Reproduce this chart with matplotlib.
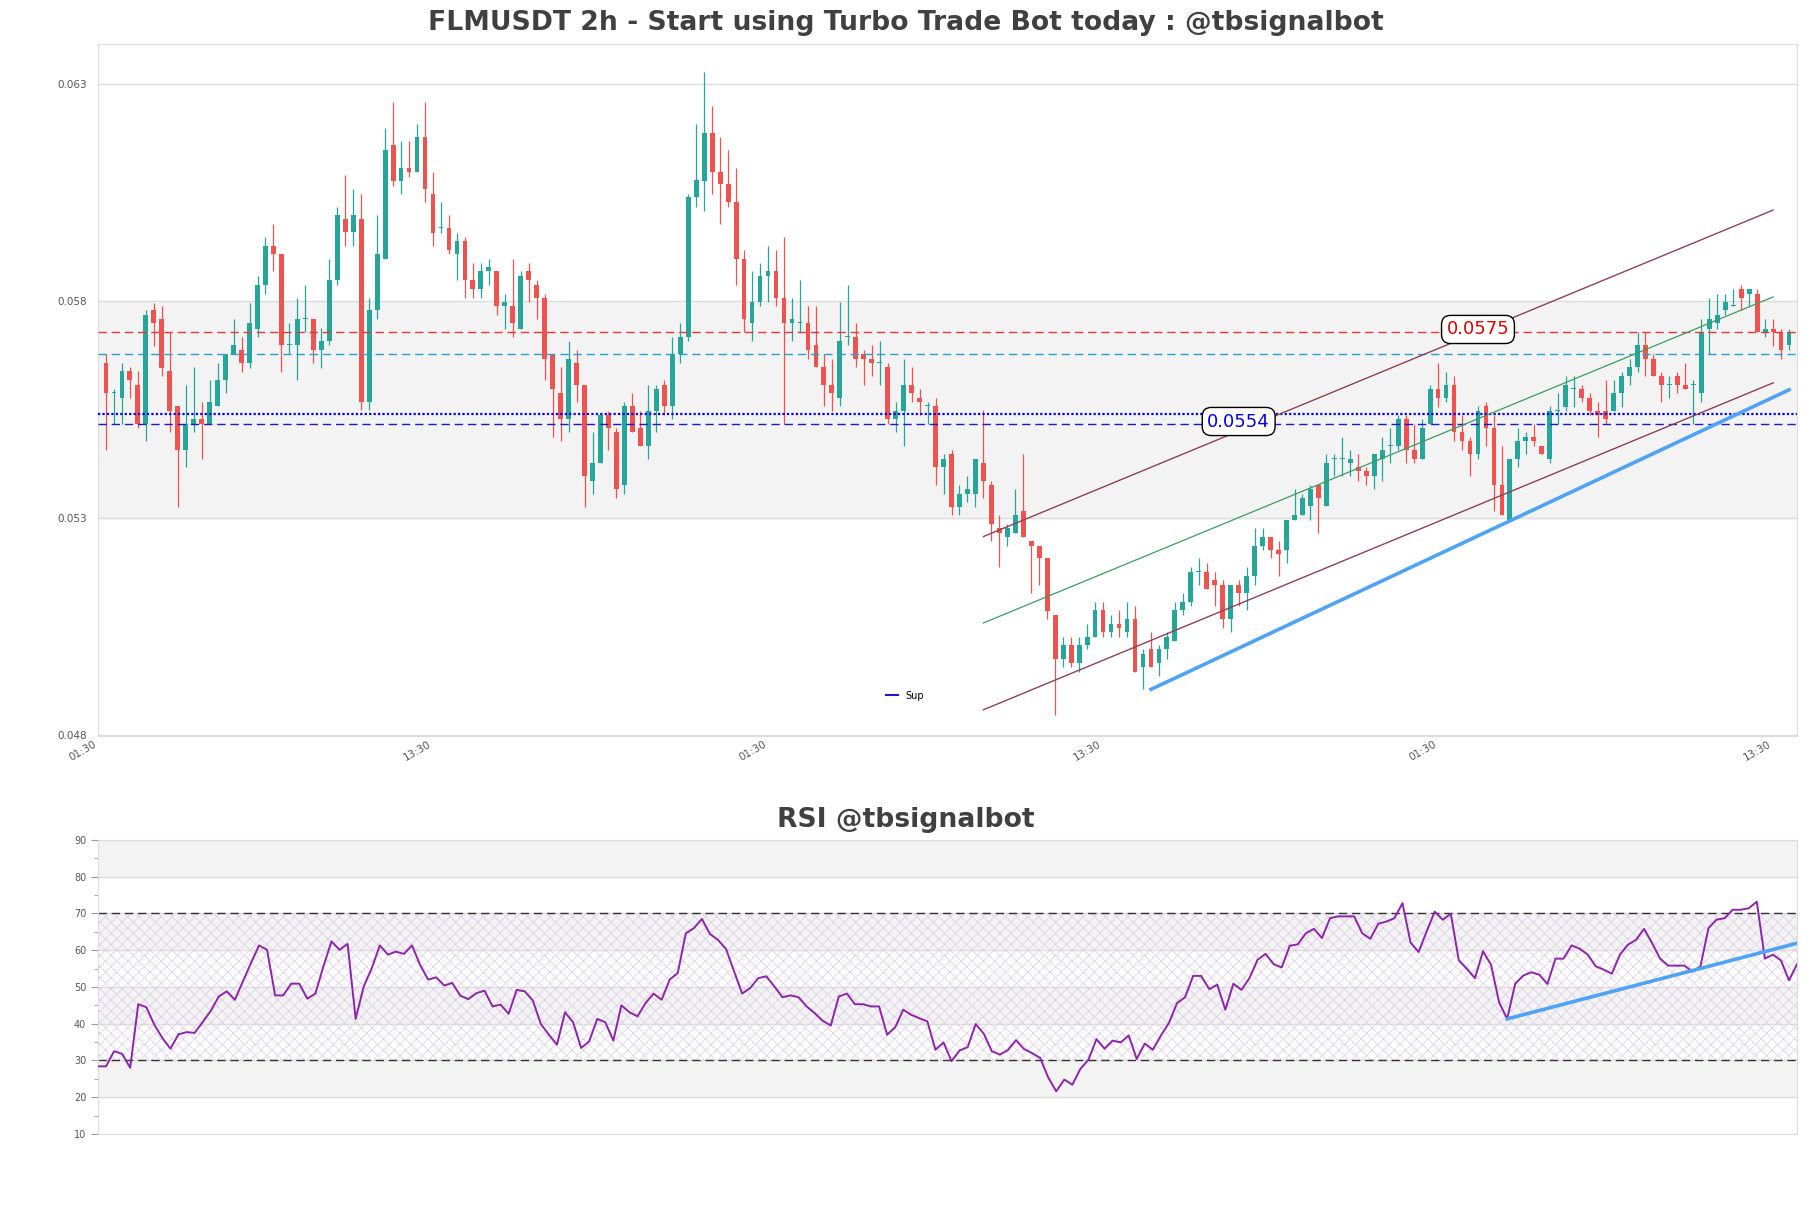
import numpy as np
import matplotlib
matplotlib.use("Agg")
import matplotlib.pyplot as plt
from matplotlib.lines import Line2D

# --- candle data (2h) ---
opens = [
    0.05658, 0.05589, 0.05577, 0.05640, 0.05607, 0.05518, 0.05779, 0.05759, 0.05640, 0.05559,
    0.05457, 0.05518, 0.05528, 0.05518, 0.05559, 0.05618, 0.05678, 0.05688, 0.05658, 0.05737,
    0.05838, 0.05928, 0.05908, 0.05699, 0.05699, 0.05759, 0.05759, 0.05688, 0.05708, 0.05848,
    0.05989, 0.05959, 0.05989, 0.05568, 0.05779, 0.05898, 0.06159, 0.06077, 0.06107, 0.06097,
    0.06179, 0.06048, 0.05968, 0.05968, 0.05908, 0.05938, 0.05848, 0.05828, 0.05869, 0.05869,
    0.05788, 0.05788, 0.05737, 0.05869, 0.05838, 0.05808, 0.05678, 0.05588, 0.05528, 0.05658,
    0.05607, 0.05387, 0.05428, 0.05539, 0.05498, 0.05377, 0.05559, 0.05508, 0.05467, 0.05548,
    0.05607, 0.05559, 0.05678, 0.05718, 0.06039, 0.06077, 0.06188, 0.06098, 0.06069, 0.06029,
    0.05898, 0.05749, 0.05798, 0.05858, 0.05869, 0.05808, 0.05749, 0.05749, 0.05749, 0.05699,
    0.05648, 0.05607, 0.05578, 0.05718, 0.05718, 0.05678, 0.05668, 0.05658, 0.05648, 0.05528,
    0.05548, 0.05607, 0.05578, 0.05559, 0.05559, 0.05418, 0.05448, 0.05327, 0.05357, 0.05357,
    0.05428, 0.05377, 0.05278, 0.05257, 0.05267, 0.05317, 0.05248, 0.05237, 0.05208, 0.05078,
    0.04977, 0.05008, 0.04967, 0.05008, 0.05027, 0.05088, 0.05038, 0.05057, 0.05038, 0.05067,
    0.04957, 0.04998, 0.04967, 0.04998, 0.05017, 0.05088, 0.05107, 0.05177, 0.05177, 0.05158,
    0.05147, 0.05067, 0.05147, 0.05127, 0.05167, 0.05237, 0.05257, 0.05227, 0.05227, 0.05297,
    0.05307, 0.05328, 0.05377, 0.05328, 0.05437, 0.05437, 0.05428, 0.05418, 0.05408, 0.05397,
    0.05437, 0.05467, 0.05467, 0.05528, 0.05457, 0.05436, 0.05518, 0.05598, 0.05578, 0.05607,
    0.05498, 0.05477, 0.05448, 0.05559, 0.05508, 0.05377, 0.05297, 0.05436, 0.05477, 0.05488,
    0.05467, 0.05436, 0.05548, 0.05557, 0.05598, 0.05598, 0.05578, 0.05548, 0.05548, 0.05548,
    0.05588, 0.05628, 0.05648, 0.05699, 0.05668, 0.05628, 0.05607, 0.05628, 0.05607, 0.05607,
    0.05588, 0.05737, 0.05749, 0.05779, 0.05788, 0.05828, 0.05817, 0.05817, 0.05728, 0.05737,
    0.05728, 0.05699,
]
highs = [
    0.05679, 0.05598, 0.05658, 0.05648, 0.05640, 0.05779, 0.05797, 0.05788, 0.05728, 0.05559,
    0.05607, 0.05648, 0.05568, 0.05618, 0.05658, 0.05678, 0.05759, 0.05718, 0.05797, 0.05858,
    0.05949, 0.05979, 0.05908, 0.05749, 0.05808, 0.05838, 0.05759, 0.05739, 0.05898, 0.06018,
    0.06090, 0.06058, 0.06048, 0.05808, 0.05998, 0.06199, 0.06259, 0.06169, 0.06169, 0.06209,
    0.06259, 0.06098, 0.06029, 0.05998, 0.05958, 0.05949, 0.05888, 0.05888, 0.05898, 0.05869,
    0.05817, 0.05898, 0.05869, 0.05888, 0.05848, 0.05817, 0.05678, 0.05648, 0.05708, 0.05688,
    0.05607, 0.05498, 0.05539, 0.05548, 0.05508, 0.05568, 0.05588, 0.05548, 0.05607, 0.05607,
    0.05618, 0.05718, 0.05749, 0.06048, 0.06209, 0.06329, 0.06249, 0.06179, 0.06148, 0.06108,
    0.05918, 0.05869, 0.05888, 0.05928, 0.05918, 0.05949, 0.05808, 0.05848, 0.05788, 0.05788,
    0.05678, 0.05668, 0.05798, 0.05838, 0.05749, 0.05688, 0.05699, 0.05708, 0.05658, 0.05568,
    0.05668, 0.05648, 0.05598, 0.05568, 0.05578, 0.05448, 0.05457, 0.05377, 0.05397, 0.05437,
    0.05549, 0.05387, 0.05307, 0.05288, 0.05368, 0.05448, 0.05248, 0.05237, 0.05208, 0.05078,
    0.05027, 0.05027, 0.05027, 0.05057, 0.05107, 0.05107, 0.05078, 0.05088, 0.05107, 0.05097,
    0.04998, 0.05038, 0.05008, 0.05038, 0.05107, 0.05127, 0.05187, 0.05208, 0.05198, 0.05177,
    0.05158, 0.05147, 0.05158, 0.05187, 0.05278, 0.05278, 0.05257, 0.05248, 0.05297, 0.05368,
    0.05357, 0.05377, 0.05377, 0.05448, 0.05448, 0.05488, 0.05457, 0.05448, 0.05418, 0.05448,
    0.05488, 0.05508, 0.05539, 0.05539, 0.05518, 0.05528, 0.05607, 0.05658, 0.05638, 0.05628,
    0.05539, 0.05488, 0.05559, 0.05568, 0.05539, 0.05467, 0.05436, 0.05508, 0.05498, 0.05518,
    0.05467, 0.05559, 0.05588, 0.05628, 0.05628, 0.05607, 0.05588, 0.05568, 0.05618, 0.05618,
    0.05638, 0.05668, 0.05728, 0.05728, 0.05678, 0.05638, 0.05628, 0.05638, 0.05658, 0.05618,
    0.05758, 0.05808, 0.05817, 0.05817, 0.05828, 0.05838, 0.05828, 0.05828, 0.05758, 0.05758,
    0.05737, 0.05737,
]
lows = [
    0.05457, 0.05518, 0.05518, 0.05577, 0.05508, 0.05477, 0.05698, 0.05628, 0.05498, 0.05327,
    0.05418, 0.05498, 0.05436, 0.05518, 0.05559, 0.05588, 0.05678, 0.05638, 0.05647, 0.05718,
    0.05817, 0.05869, 0.05638, 0.05678, 0.05618, 0.05728, 0.05658, 0.05647, 0.05699, 0.05838,
    0.05928, 0.05928, 0.05549, 0.05549, 0.05759, 0.05898, 0.06066, 0.06046, 0.06087, 0.06097,
    0.06029, 0.05928, 0.05958, 0.05908, 0.05848, 0.05808, 0.05808, 0.05808, 0.05838, 0.05768,
    0.05737, 0.05718, 0.05737, 0.05798, 0.05758, 0.05618, 0.05488, 0.05477, 0.05498, 0.05568,
    0.05327, 0.05357, 0.05428, 0.05457, 0.05347, 0.05357, 0.05498, 0.05467, 0.05436, 0.05498,
    0.05539, 0.05528, 0.05658, 0.05708, 0.06018, 0.06008, 0.06048, 0.05978, 0.06018, 0.05838,
    0.05728, 0.05708, 0.05788, 0.05798, 0.05788, 0.05518, 0.05708, 0.05728, 0.05668, 0.05648,
    0.05559, 0.05548, 0.05559, 0.05699, 0.05648, 0.05607, 0.05628, 0.05607, 0.05518, 0.05498,
    0.05467, 0.05568, 0.05539, 0.05518, 0.05377, 0.05357, 0.05307, 0.05307, 0.05337, 0.05327,
    0.05347, 0.05248, 0.05187, 0.05237, 0.05267, 0.05257, 0.05127, 0.05147, 0.05067, 0.04847,
    0.04957, 0.04957, 0.04947, 0.04998, 0.05027, 0.05027, 0.05027, 0.05027, 0.05027, 0.04947,
    0.04906, 0.04957, 0.04936, 0.04977, 0.05017, 0.05078, 0.05097, 0.05147, 0.05137, 0.05097,
    0.05047, 0.05038, 0.05097, 0.05088, 0.05147, 0.05227, 0.05208, 0.05167, 0.05198, 0.05297,
    0.05307, 0.05297, 0.05267, 0.05328, 0.05397, 0.05397, 0.05397, 0.05387, 0.05377, 0.05368,
    0.05387, 0.05428, 0.05457, 0.05428, 0.05428, 0.05436, 0.05518, 0.05557, 0.05568, 0.05477,
    0.05457, 0.05397, 0.05437, 0.05467, 0.05317, 0.05307, 0.05297, 0.05418, 0.05448, 0.05467,
    0.05448, 0.05428, 0.05518, 0.05548, 0.05557, 0.05568, 0.05539, 0.05488, 0.05518, 0.05548,
    0.05557, 0.05607, 0.05638, 0.05628, 0.05628, 0.05568, 0.05578, 0.05588, 0.05598, 0.05518,
    0.05568, 0.05678, 0.05737, 0.05768, 0.05788, 0.05779, 0.05788, 0.05728, 0.05718, 0.05698,
    0.05667, 0.05688,
]
closes = [
    0.05588, 0.05591, 0.05640, 0.05618, 0.05518, 0.05768, 0.05749, 0.05647, 0.05548, 0.05457,
    0.05518, 0.05528, 0.05518, 0.05568, 0.05618, 0.05678, 0.05699, 0.05658, 0.05749, 0.05838,
    0.05928, 0.05908, 0.05699, 0.05700, 0.05759, 0.05760, 0.05688, 0.05708, 0.05848, 0.05998,
    0.05959, 0.05998, 0.05568, 0.05779, 0.05908, 0.06148, 0.06077, 0.06107, 0.06097, 0.06179,
    0.06058, 0.05958, 0.05969, 0.05918, 0.05938, 0.05848, 0.05828, 0.05869, 0.05878, 0.05788,
    0.05798, 0.05749, 0.05858, 0.05848, 0.05808, 0.05668, 0.05598, 0.05528, 0.05668, 0.05607,
    0.05397, 0.05428, 0.05539, 0.05508, 0.05368, 0.05559, 0.05498, 0.05467, 0.05548, 0.05598,
    0.05559, 0.05678, 0.05718, 0.06039, 0.06079, 0.06188, 0.06098, 0.06069, 0.06029, 0.05898,
    0.05758, 0.05798, 0.05858, 0.05869, 0.05808, 0.05749, 0.05758, 0.05750, 0.05688, 0.05648,
    0.05607, 0.05588, 0.05708, 0.05719, 0.05668, 0.05668, 0.05658, 0.05659, 0.05528, 0.05548,
    0.05607, 0.05588, 0.05568, 0.05560, 0.05418, 0.05436, 0.05327, 0.05357, 0.05368, 0.05437,
    0.05387, 0.05288, 0.05267, 0.05278, 0.05307, 0.05257, 0.05237, 0.05208, 0.05087, 0.04977,
    0.05008, 0.04967, 0.05008, 0.05027, 0.05088, 0.05038, 0.05057, 0.05047, 0.05067, 0.04947,
    0.04987, 0.04957, 0.04998, 0.05027, 0.05088, 0.05107, 0.05177, 0.05178, 0.05137, 0.05147,
    0.05067, 0.05147, 0.05127, 0.05167, 0.05237, 0.05257, 0.05227, 0.05217, 0.05297, 0.05307,
    0.05347, 0.05368, 0.05347, 0.05428, 0.05438, 0.05438, 0.05437, 0.05408, 0.05397, 0.05448,
    0.05457, 0.05468, 0.05528, 0.05457, 0.05436, 0.05508, 0.05598, 0.05578, 0.05607, 0.05498,
    0.05477, 0.05448, 0.05548, 0.05508, 0.05377, 0.05307, 0.05436, 0.05477, 0.05488, 0.05477,
    0.05448, 0.05548, 0.05549, 0.05607, 0.05599, 0.05578, 0.05548, 0.05539, 0.05528, 0.05588,
    0.05628, 0.05648, 0.05699, 0.05668, 0.05628, 0.05607, 0.05608, 0.05607, 0.05598, 0.05608,
    0.05728, 0.05758, 0.05768, 0.05798, 0.05789, 0.05808, 0.05828, 0.05728, 0.05737, 0.05728,
    0.05688, 0.05728,
]

rsi = [
    28.4, 28.4, 32.5, 31.8, 28.0, 45.3, 44.5, 39.7, 36.1, 33.2,
    37.1, 37.7, 37.5, 40.4, 43.5, 47.4, 48.8, 46.5, 51.5, 56.5,
    61.3, 60.1, 47.7, 47.7, 50.9, 50.9, 46.8, 48.2, 55.6, 62.4,
    60.1, 61.7, 41.3, 50.1, 55.1, 61.3, 58.8, 59.6, 59.0, 61.3,
    56.0, 52.0, 52.6, 50.4, 51.1, 47.6, 46.7, 48.3, 49.0, 44.7,
    45.2, 42.7, 49.2, 48.8, 46.3, 39.9, 37.0, 34.3, 43.1, 40.4,
    33.4, 35.2, 41.3, 40.4, 35.4, 45.0, 43.1, 42.0, 45.6, 48.2,
    46.5, 52.0, 53.8, 64.6, 66.0, 68.5, 64.4, 62.8, 60.3, 54.2,
    48.2, 49.7, 52.4, 52.9, 50.1, 47.2, 47.7, 47.2, 44.7, 42.9,
    40.8, 39.5, 47.4, 48.2, 45.3, 45.3, 44.7, 44.7, 37.0, 39.0,
    43.8, 42.4, 41.5, 40.6, 32.9, 34.9, 29.8, 32.7, 33.6, 39.9,
    37.3, 32.5, 31.6, 32.8, 35.5, 33.1, 32.0, 30.7, 25.4, 21.6,
    24.8, 23.4, 27.7, 30.2, 35.8, 33.2, 35.4, 34.9, 36.8, 30.4,
    34.6, 32.9, 36.8, 40.2, 45.6, 47.2, 53.0, 53.0, 49.4, 50.6,
    43.8, 50.9, 49.2, 52.4, 57.4, 59.0, 56.2, 55.3, 61.2, 61.6,
    64.6, 65.8, 63.3, 68.7, 69.2, 69.2, 69.2, 64.6, 63.1, 67.2,
    67.8, 68.7, 72.8, 62.1, 59.5, 65.1, 70.5, 68.3, 69.9, 57.2,
    54.9, 52.4, 59.7, 56.0, 45.8, 41.3, 50.9, 53.1, 54.0, 53.3,
    50.8, 57.7, 57.7, 61.3, 60.4, 58.8, 55.6, 54.7, 53.6, 58.8,
    61.5, 62.8, 65.8, 61.9, 57.7, 55.8, 55.8, 55.8, 54.2, 55.6,
    66.0, 68.3, 68.7, 71.0, 71.0, 71.4, 73.2, 57.7, 58.8, 57.2,
    51.8, 56.2,
]

tick_labels = ["01:30", "13:30", "01:30", "13:30", "01:30", "13:30"]

# levels
resistance = 0.05728
resistance_label = "0.0575"
pivot = 0.05678
support_dot = 0.0554
support_label = "0.0554"
support = 0.05518

# channel (start idx, end idx) and prices
chan_x = [110, 209]
chan_upper = [0.05258, 0.06010]
chan_mid = [0.05059, 0.05810]
chan_lower = [0.04859, 0.05612]
trend_x = [131, 211]
trend_y = [0.04906, 0.05596]
rsi_trend_x = [175, 211]
rsi_trend_y = [41.3, 61.9]

UP = "#26a69a"
DOWN = "#ef5350"
GRID = "#dddddd"
BAND = "#f3f3f3"

o = np.array(opens)
h = np.array(highs)
l = np.array(lows)
c = np.array(closes)
n = len(o)
x = np.arange(n)
colors = np.where(c >= o, UP, DOWN)

plt.rcParams["hatch.linewidth"] = 0.5
fig = plt.figure(figsize=(18.11, 12.08), dpi=100)

# ---------- price panel ----------
ax = fig.add_axes([0.0541, 0.3907, 0.9382, 0.5728])
ax.set_xlim(-1, n)
ax.set_ylim(l.min() * 0.99, h.max() * 1.01)
ax.axhspan(0.053, 0.058, color=BAND, zorder=0)
ax.set_yticks([0.048, 0.053, 0.058, 0.063])
ax.set_yticklabels(["%.3f" % v for v in [0.048, 0.053, 0.058, 0.063]])
ax.yaxis.grid(True, color=GRID, lw=1, zorder=0)
ax.set_axisbelow(True)

ax.vlines(x, l, h, colors=colors, lw=0.9, zorder=2)
body = np.maximum(np.abs(c - o), 0.000025)
ax.bar(x, body, bottom=np.minimum(o, c), width=0.6, color=colors, zorder=2)

dash = (0, (6, 3.5))
ax.axhline(resistance, color="#e53935", lw=1, ls=dash, zorder=3)
ax.axhline(pivot, color="#2a9fd6", lw=1, ls=dash, zorder=3)
ax.axhline(support_dot, color="#0000ee", lw=1.6, ls=(0, (1, 1)), zorder=3)
ax.axhline(support, color="#1a1acc", lw=1, ls=dash, zorder=3, label="Sup")

ax.plot(chan_x, chan_upper, color="#8e4155", lw=1, zorder=3)
ax.plot(chan_x, chan_lower, color="#8e4155", lw=1, zorder=3)
ax.plot(chan_x, chan_mid, color="#3d9c5c", lw=0.9, zorder=3)
ax.plot(trend_x, trend_y, color="#4fa3f7", lw=2.6, zorder=3)

box = dict(boxstyle="round,pad=0.28,rounding_size=0.5", fc="white", ec="black", lw=1)
ax.text(172, 0.05735, resistance_label, color="#e00000", fontsize=13,
        ha="center", va="center", bbox=box, zorder=4)
ax.text(142, 0.05523, support_label, color="#0000dd", fontsize=13,
        ha="center", va="center", bbox=box, zorder=4)

handle = Line2D([], [], color="#1a1acc", lw=1.5)
ax.legend([handle], ["Sup"], loc="center", bbox_to_anchor=(0.475, 0.058),
          frameon=False, fontsize=7, handlelength=1.2, handletextpad=0.8)

ax.set_xticks(np.arange(-1, n, 42))
ax.set_xticklabels(tick_labels, rotation=30, ha="right")
ax.tick_params(axis="both", length=0, labelsize=7.5, labelcolor="#555555")
ax.tick_params(axis="y", pad=8)
ax.tick_params(axis="x", pad=2)
for s in ax.spines.values():
    s.set_color(GRID)

fig.text(0.5, 0.981, "FLMUSDT 2h - Start using Turbo Trade Bot today : @tbsignalbot",
         ha="center", va="center", fontsize=19.2, fontweight="bold", color="#404040")

# ---------- RSI panel ----------
ar = fig.add_axes([0.0541, 0.0613, 0.9382, 0.2434])
ar.set_xlim(0, n - 1)
ar.set_ylim(10, 90)
for lo in (20, 40, 60, 80):
    ar.axhspan(lo, lo + 10, color=BAND, zorder=0)
ar.fill_between([0, n - 1], 30, 70, facecolor="none", hatch="xxx",
                edgecolor="#dccbe8", lw=0, zorder=1)
ar.set_yticks(np.arange(10, 91, 10))
ar.set_yticks(np.arange(15, 90, 10), minor=True)
ar.yaxis.grid(True, which="major", color=GRID, lw=1, zorder=0)
ar.set_axisbelow(True)
ar.axhline(70, color="#333333", lw=1, ls=dash, zorder=2)
ar.axhline(30, color="#333333", lw=1, ls=dash, zorder=2)
ar.plot(x, rsi, color="#8e24aa", lw=1.4, zorder=3)
ar.plot(rsi_trend_x, rsi_trend_y, color="#4fa3f7", lw=2.6, zorder=4)
ar.set_xticks([])
ar.tick_params(axis="y", which="major", length=5, color="#999999",
               labelsize=7, labelcolor="#555555")
ar.tick_params(axis="y", which="minor", length=3, color="#999999")
for s in ar.spines.values():
    s.set_color(GRID)

fig.text(0.5, 0.3212, "RSI @tbsignalbot", ha="center", va="center",
         fontsize=19.2, fontweight="bold", color="#404040")

fig.savefig("out.png", dpi=100)
